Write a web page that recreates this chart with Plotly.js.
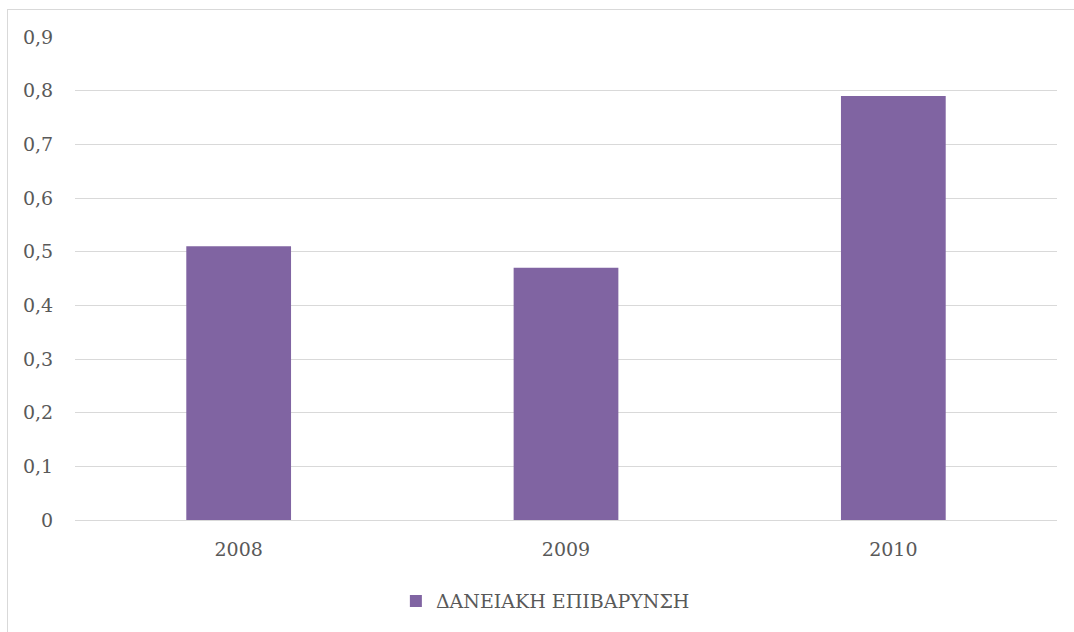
<!DOCTYPE html>
<html>
<head>
<meta charset="utf-8">
<script src="https://cdn.plot.ly/plotly-3.0.1.min.js"></script>
<style>
  html, body { margin: 0; padding: 0; background: #fff; }
  #frame { position: absolute; left: 7px; top: 9px; width: 1080px; height: 640px; border: 1px solid #d9d9d9; box-sizing: border-box; }
  #chart { position: absolute; left: 0; top: 0; width: 1074px; height: 632px; }
</style>
</head>
<body>
<div id="frame"></div>
<div id="chart"></div>
<script>
const categories = ["2008", "2009", "2010"];
const values = [0.51, 0.47, 0.79];
const seriesName = "ΔΑΝΕΙΑΚΗ ΕΠΙΒΑΡΥΝΣΗ";
const yTicks = [0, 0.1, 0.2, 0.3, 0.4, 0.5, 0.6, 0.7, 0.8, 0.9];
const yTickLabels = ["0", "0,1", "0,2", "0,3", "0,4", "0,5", "0,6", "0,7", "0,8", "0,9"];

const fontFamily = "DejaVu Serif, Liberation Serif, serif";
const fontSize = 19;

Plotly.newPlot("chart", [{
  type: "bar",
  x: categories,
  y: values,
  name: seriesName,
  marker: { color: "#8064A2" },
  showlegend: true,
  hoverinfo: "x+y"
}], {
  width: 1074,
  height: 632,
  margin: { l: 75, r: 17, t: 37, b: 112 },
  paper_bgcolor: "rgba(0,0,0,0)",
  plot_bgcolor: "rgba(0,0,0,0)",
  font: { family: fontFamily, size: fontSize, color: "#595959" },
  bargap: 0.68,
  xaxis: {
    type: "category",
    showgrid: false,
    showline: false,
    zeroline: false,
    ticks: "outside",
    ticklen: 12,
    tickcolor: "rgba(0,0,0,0)",
    tickfont: { family: fontFamily, size: fontSize, color: "#595959" }
  },
  yaxis: {
    range: [0, 0.9],
    tickvals: yTicks,
    ticktext: yTickLabels,
    showgrid: true,
    gridcolor: "#d9d9d9",
    gridwidth: 1,
    zeroline: true,
    zerolinecolor: "#d9d9d9",
    zerolinewidth: 1,
    showline: false,
    ticks: "outside",
    ticklen: 17,
    tickcolor: "rgba(0,0,0,0)",
    tickfont: { family: fontFamily, size: fontSize, color: "#595959" }
  },
  showlegend: true,
  legend: {
    orientation: "h",
    x: 0.479,
    xanchor: "center",
    y: -0.168,
    yanchor: "middle",
    font: { family: fontFamily, size: fontSize, color: "#595959" },
    itemwidth: 30
  }
}, { displayModeBar: false });
</script>
</body>
</html>
